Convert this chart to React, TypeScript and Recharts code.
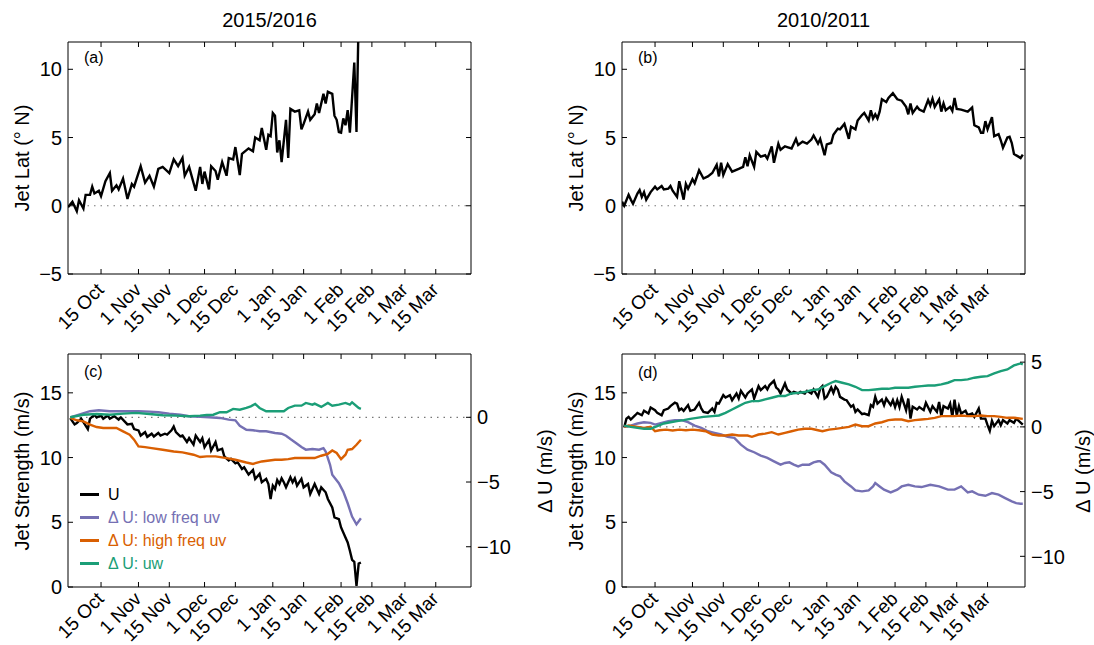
import { LineChart, Line, XAxis, YAxis, ReferenceLine, ReferenceArea, Legend } from "recharts"

// day index: 0 = 1 Oct
const monthLabels = ["15 Oct", "1 Nov", "15 Nov", "1 Dec", "15 Dec", "1 Jan", "15 Jan", "1 Feb", "15 Feb", "1 Mar", "15 Mar"]
const tickDays1516 = [14, 31, 45, 61, 75, 92, 106, 123, 137, 152, 166]
const tickDays1011 = [14, 31, 45, 61, 75, 92, 106, 123, 137, 151, 165]

// (a) jet latitude 2015/2016
const latDays1516 = [-1, 1, 3, 4, 6, 7, 9, 10, 11, 13,
    14, 16, 18, 19, 21, 22, 24, 26, 28, 29,
    32, 34, 36, 38, 40, 42, 45, 47, 49, 51,
    52, 54, 57, 59, 60, 61, 63, 64, 66, 67,
    69, 71, 72, 74, 75, 77, 78, 81, 83, 84,
    86, 87, 89, 90, 91, 92, 93, 94, 95, 96,
    98, 99, 100, 102, 104, 105, 106, 108, 109, 111,
    112, 113, 115, 116, 117, 119, 120, 121, 122, 123,
    124, 125, 126, 127, 129, 130, 131]
const latVals1516 = [-0.1, 0.3, -0.4, 0.4, -0.2, 0.8, 0.8, 1.4, 0.9, 1.1,
    0.7, 1.8, 2.4, 1.1, 1.5, 1.2, 2.0, 0.5, 1.6, 1.4,
    2.9, 1.7, 2.2, 1.4, 2.7, 2.85, 2.4, 3.4, 2.9, 3.5,
    2.2, 2.85, 1.1, 2.85, 1.6, 2.5, 1.2, 2.9, 2.55, 1.9,
    3.2, 2.2, 3.5, 3.4, 4.3, 2.25, 3.8, 4.2, 4.0, 5.0,
    4.8, 5.7, 4.1, 5.2, 5.1, 6.8, 6.6, 3.9, 4.8, 3.2,
    6.3, 3.5, 7.1, 6.9, 7.0, 5.6, 6.0, 6.9, 6.3, 6.7,
    7.5, 6.8, 8.2, 7.5, 8.35, 8.2, 6.6, 6.3, 5.4, 5.35,
    6.4, 5.9, 7.0, 5.35, 10.5, 5.4, 14]

// (b) jet latitude 2010/2011
const latDays1011 = [-1, 0, 2, 3, 4, 6, 7, 8, 9, 10,
    12, 14, 15, 17, 18, 20, 21, 22, 24, 25,
    27, 28, 29, 31, 32, 34, 36, 38, 40, 42,
    43, 44, 45, 47, 49, 52, 54, 55, 56, 57,
    59, 60, 62, 64, 65, 67, 68, 70, 71, 73,
    74, 76, 78, 79, 81, 83, 85, 86, 88, 89,
    91, 92, 94, 95, 97, 98, 100, 102, 103, 105,
    106, 108, 109, 111, 112, 113, 114, 115, 116, 117,
    119, 120, 122, 124, 126, 128, 129, 130, 131, 133,
    134, 136, 138, 139, 140, 141, 143, 144, 145, 146,
    148, 149, 150, 151, 153, 156, 158, 159, 161, 162,
    163, 164, 165, 167, 168, 170, 171, 172, 174, 175,
    176, 177, 179, 180, 181]
const latVals1011 = [0.3, 0.0, 0.8, 0.45, 0.15, 0.9, 1.15, 0.65, 1.0, 0.45,
    1.0, 1.4, 1.2, 1.45, 1.2, 1.25, 1.45, 1.1, 0.65, 1.8,
    0.45, 1.6, 1.25, 1.95, 1.65, 2.6, 2.0, 2.15, 2.4, 3.0,
    2.15, 3.15, 2.25, 3.05, 2.5, 2.7, 2.85, 3.55, 2.9, 3.7,
    2.85, 3.95, 3.6, 3.7, 3.45, 4.35, 3.15, 4.55, 4.1, 4.35,
    4.3, 4.2, 4.9, 4.45, 4.7, 4.55, 4.85, 5.15, 4.55, 4.9,
    3.7, 4.5, 4.6, 5.2, 5.65, 5.6, 6.0, 4.9, 5.8, 5.6,
    6.25, 6.65, 6.8, 6.25, 7.0, 6.4, 6.7, 6.4, 6.9, 7.8,
    7.6, 7.9, 8.25, 7.8, 7.7, 7.25, 6.7, 7.5, 6.8, 7.25,
    7.05, 6.9, 7.75, 7.35, 7.85, 7.25, 7.8, 6.9, 7.5, 7.0,
    7.25, 6.95, 7.9, 7.1, 7.05, 6.9, 7.2, 5.9, 5.75, 5.35,
    5.35, 6.2, 5.6, 6.5, 5.1, 5.25, 4.8, 4.25, 5.0, 5.05,
    4.6, 3.8, 3.6, 3.5, 3.75]

// (c) jet strength 2015/2016 (U on left axis, delta U on right axis)
const uDays1516 = [0, 2, 3, 5, 6, 8, 9, 11, 12, 14,
    15, 17, 18, 20, 22, 23, 25, 26, 28, 29,
    31, 32, 34, 35, 37, 38, 40, 41, 43, 44,
    46, 47, 48, 50, 51, 53, 54, 56, 57, 59,
    60, 61, 63, 64, 66, 67, 69, 70, 72, 73,
    75, 76, 78, 79, 81, 83, 84, 86, 87, 89,
    90, 91, 92, 93, 94, 95, 96, 97, 98, 100,
    101, 102, 103, 105, 106, 108, 109, 111, 112, 113,
    114, 116, 117, 119, 120, 122, 123, 125, 126, 127,
    128, 129, 130, 131, 132]
const uVals1516 = [13.05, 12.56, 12.66, 13.0, 12.74, 12.2, 13.0, 13.3, 13.1, 13.25,
    13.0, 13.25, 13.0, 13.2, 12.93, 13.1, 12.74, 12.56, 12.6, 12.2,
    12.1, 11.7, 11.96, 11.6, 11.84, 11.63, 11.9, 11.7, 11.84, 11.78,
    12.1, 12.4, 11.96, 11.63, 11.7, 11.2, 11.5, 11.0, 11.7, 11.2,
    11.5, 10.8, 11.35, 10.55, 11.2, 10.55, 10.68, 10.08, 9.78, 9.9,
    9.56, 9.64, 9.12, 9.25, 8.69, 9.05, 8.35, 8.74, 8.09, 8.35,
    7.96, 6.8, 7.83, 7.57, 8.27, 7.96, 8.4, 8.09, 7.7, 8.48,
    8.09, 8.4, 7.83, 8.35, 7.7, 7.96, 7.19, 7.96, 7.57, 7.19,
    7.7, 7.32, 6.8, 6.15, 5.38, 5.25, 4.6, 3.83, 3.44, 2.8,
    2.1, 1.95, 0.08, 1.81, 1.89]

const lowDays1516 = [0, 4, 9, 13, 18, 22, 27, 31, 36, 40,
    45, 50, 54, 59, 63, 68, 72, 75, 77, 80,
    83, 86, 89, 93, 96, 98, 100, 103, 105, 107,
    110, 113, 115, 116, 118, 119, 122, 124, 126, 128,
    130, 132]
const lowVals1516 = [0, 0.2, 0.47, 0.54, 0.47, 0.47, 0.47, 0.47, 0.44, 0.39,
    0.28, 0.2, 0.08, 0.03, 0, -0.05, -0.18, -0.23, -0.65, -0.96,
    -1.0, -1.08, -1.08, -1.21, -1.27, -1.42, -1.68, -2.04, -2.3, -2.5,
    -2.45, -2.5, -2.38, -2.64, -3.67, -4.44, -5.09, -5.74, -6.64, -7.67,
    -8.27, -7.8]

const highDays1516 = [0, 3, 6, 9, 12, 15, 18, 21, 24, 27,
    29, 31, 34, 37, 42, 47, 51, 56, 59, 62,
    66, 71, 75, 80, 83, 87, 93, 96, 99, 102,
    105, 108, 111, 114, 117, 119, 121, 123, 125, 126,
    128, 130, 132]
const highVals1516 = [-0.05, -0.23, -0.31, -0.57, -0.75, -0.83, -0.83, -0.83, -1.09, -1.34,
    -1.73, -2.25, -2.3, -2.38, -2.51, -2.64, -2.71, -2.89, -3.07, -3.02,
    -3.02, -3.15, -3.28, -3.49, -3.6, -3.41, -3.28, -3.28, -3.23, -3.15,
    -3.15, -3.15, -3.15, -2.97, -2.82, -2.56, -2.76, -3.23, -2.89, -2.51,
    -2.45, -2.12, -1.73]

const uwDays1516 = [0, 6, 12, 18, 24, 30, 36, 42, 48, 54,
    59, 62, 65, 68, 71, 74, 77, 80, 82, 84,
    86, 89, 93, 97, 99, 102, 105, 107, 110, 111,
    114, 117, 119, 122, 125, 127, 128, 131, 132]
const uwVals1516 = [0, 0.2, 0.26, 0.2, 0.28, 0.34, 0.26, 0.16, 0.13, 0.08,
    0.13, 0.18, 0.2, 0.39, 0.39, 0.65, 0.59, 0.72, 0.85, 1.03,
    0.72, 0.47, 0.47, 0.47, 0.72, 0.9, 0.9, 1.11, 0.98, 1.06,
    0.8, 1.11, 0.9, 0.98, 1.11, 0.98, 1.16, 0.72, 0.65]

// (d) jet strength 2010/2011
const uDays1011 = [0, 1, 2, 3, 5, 6, 8, 9, 11, 12,
    14, 15, 17, 18, 20, 21, 23, 24, 25, 26,
    27, 29, 30, 32, 34, 35, 36, 38, 40, 41,
    42, 43, 45, 46, 48, 49, 51, 52, 53, 55,
    56, 58, 59, 61, 62, 64, 65, 66, 68, 69,
    70, 71, 73, 74, 76, 77, 79, 80, 82, 83,
    85, 86, 88, 89, 90, 91, 92, 94, 95, 96,
    97, 98, 100, 101, 103, 104, 105, 106, 108, 109,
    111, 112, 113, 114, 115, 117, 118, 119, 121, 122,
    123, 124, 125, 126, 128, 129, 130, 131, 133, 134,
    136, 137, 139, 140, 142, 143, 144, 145, 147, 148,
    149, 150, 151, 152, 153, 155, 156, 158, 159, 161,
    162, 164, 165, 166, 167, 168, 170, 171, 172, 174,
    175, 177, 178, 180, 181]
const uVals1011 = [12.32, 13.01, 13.14, 12.94, 13.27, 13.45, 13.27, 13.61, 13.4, 13.87,
    13.66, 13.45, 13.27, 13.66, 13.79, 13.97, 14.25, 14.17, 13.66, 13.79,
    13.61, 14.05, 13.61, 13.71, 14.23, 13.79, 13.53, 13.45, 13.79, 13.53,
    14.23, 14.17, 14.82, 14.64, 14.82, 14.43, 14.95, 14.56, 15.16, 14.64,
    14.95, 15.26, 14.56, 15.52, 15.21, 15.52, 15.26, 15.6, 15.93, 15.41,
    15.26, 14.95, 15.72, 15.26, 14.95, 15.08, 14.95, 15.08, 14.95, 15.16,
    14.95, 15.26, 14.69, 15.34, 15.52, 14.56, 14.69, 15.41, 15.0, 15.47,
    15.26, 14.69, 14.48, 14.43, 13.92, 14.05, 13.53, 13.71, 13.35, 13.4,
    13.27, 14.05, 13.92, 14.69, 14.17, 14.48, 14.05, 14.56, 14.05, 14.43,
    13.9, 14.43, 13.9, 14.69, 13.66, 14.56, 13.01, 13.92, 13.71, 13.9,
    13.66, 14.23, 13.53, 13.97, 13.53, 14.3, 13.19, 13.97, 13.79, 14.17,
    13.14, 14.48, 13.27, 13.97, 13.4, 13.61, 13.27, 13.4, 13.14, 13.79,
    13.01, 13.01, 12.5, 12.06, 12.84, 12.43, 12.89, 12.5, 12.89, 12.63,
    12.89, 12.68, 13.01, 12.7, 12.55]

const lowDays1011 = [0, 3, 6, 9, 12, 14, 17, 20, 23, 26,
    29, 32, 35, 38, 41, 44, 47, 50, 53, 56,
    59, 62, 65, 68, 71, 73, 75, 77, 79, 81,
    84, 86, 88, 89, 91, 94, 96, 98, 100, 103,
    105, 108, 111, 113, 114, 116, 118, 121, 124, 126,
    129, 132, 135, 139, 143, 147, 150, 153, 156, 158,
    161, 164, 167, 170, 173, 176, 178, 180, 181]
const lowVals1011 = [0, 0.1, 0.26, 0.36, 0.31, 0.18, 0.31, 0.44, 0.52, 0.52,
    0.36, 0.1, -0.08, -0.34, -0.46, -0.59, -0.77, -0.85, -1.37, -1.76,
    -1.96, -2.22, -2.4, -2.66, -2.92, -2.79, -2.74, -2.92, -3.05, -2.92,
    -2.92, -2.74, -2.66, -2.66, -2.92, -3.51, -3.69, -3.82, -4.21, -4.6,
    -4.91, -4.98, -4.91, -4.6, -4.34, -4.6, -4.85, -5.06, -4.85, -4.6,
    -4.47, -4.6, -4.65, -4.47, -4.6, -4.85, -4.85, -4.6, -5.06, -4.98,
    -5.24, -5.32, -5.11, -5.24, -5.5, -5.76, -5.89, -5.94, -5.94]

const highDays1011 = [0, 2, 6, 9, 12, 14, 16, 19, 22, 25,
    28, 31, 34, 37, 40, 43, 46, 49, 52, 56,
    58, 61, 64, 67, 70, 73, 76, 79, 82, 85,
    88, 90, 93, 96, 99, 102, 105, 108, 111, 114,
    117, 120, 123, 126, 129, 132, 135, 138, 141, 144,
    147, 150, 153, 156, 159, 162, 165, 168, 171, 174,
    177, 181]
const highVals1011 = [0, 0.1, 0, -0.08, 0, -0.34, -0.26, -0.21, -0.28, -0.21,
    -0.26, -0.21, -0.26, -0.34, -0.59, -0.67, -0.67, -0.59, -0.67, -0.67,
    -0.77, -0.59, -0.52, -0.41, -0.59, -0.46, -0.34, -0.21, -0.15, -0.15,
    -0.26, -0.34, -0.21, -0.15, -0.08, 0, 0.18, 0.05, 0.05, 0.26,
    0.36, 0.52, 0.57, 0.57, 0.44, 0.52, 0.57, 0.62, 0.7, 0.83,
    0.83, 0.83, 0.88, 0.83, 0.83, 0.88, 0.83, 0.83, 0.77, 0.7,
    0.7, 0.62]

const uwDays1011 = [0, 3, 6, 9, 12, 15, 18, 21, 24, 27,
    30, 33, 36, 40, 43, 46, 49, 52, 55, 58,
    61, 64, 67, 70, 73, 76, 79, 82, 85, 88,
    91, 94, 96, 99, 102, 105, 108, 111, 114, 117,
    120, 123, 126, 129, 132, 135, 138, 141, 144, 147,
    150, 153, 156, 159, 162, 165, 168, 171, 174, 177,
    180, 181]
const uwVals1011 = [0.1, 0, -0.08, -0.15, -0.15, 0.05, 0.26, 0.36, 0.44, 0.52,
    0.62, 0.7, 0.77, 0.83, 0.88, 1.08, 1.34, 1.6, 1.86, 1.99,
    1.99, 2.12, 2.25, 2.38, 2.38, 2.58, 2.63, 2.69, 2.84, 2.89,
    3.15, 3.41, 3.54, 3.41, 3.28, 3.1, 2.84, 2.84, 2.89, 2.94,
    2.94, 3.02, 3.02, 3.02, 3.1, 3.15, 3.2, 3.2, 3.28, 3.41,
    3.61, 3.61, 3.67, 3.8, 3.87, 3.92, 4.13, 4.31, 4.44, 4.75,
    4.9, 4.83]

const latTicks = [-5, 0, 5, 10]
const strengthTicks = [0, 5, 10, 15]
const seriesNames = ["U", "\u0394 U: low freq uv", "\u0394 U: high freq uv", "\u0394 U: uw"]

const C_U = "#000000"
const C_LOW = "#7570b3"
const C_HIGH = "#d95f02"
const C_UW = "#1b9e77"

const FONT = '"Liberation Sans", Arial, Helvetica, sans-serif'
const PLOT_W = 403

const pts = (days: number[], vals: number[]) => days.map((d, i) => ({ day: d, v: vals[i] }))
const fmt = (v: number) => (v < 0 ? "\u2212" + Math.abs(v) : String(v))

function xTick(days: number[], plotH: number, drop: number) {
    return (props: any) => {
        const { x, y, payload } = props
        const label = monthLabels[days.indexOf(payload.value)]
        const tx = x + 4
        const ty = y + drop
        return (
            <g>
                <line x1={x} x2={x} y1={y} y2={y - 5} stroke="#000" />
                <line x1={x} x2={x} y1={y - plotH} y2={y - plotH + 5} stroke="#000" />
                <text x={tx} y={ty} textAnchor="end" fontSize={19} fill="#000"
                    transform={`rotate(-45 ${tx} ${ty})`}>{label}</text>
            </g>
        )
    }
}

function leftTick(mirror: boolean) {
    return (props: any) => {
        const { x, y, payload } = props
        return (
            <g>
                <line x1={x} x2={x + 5} y1={y} y2={y} stroke="#000" />
                {mirror && <line x1={x + PLOT_W} x2={x + PLOT_W - 5} y1={y} y2={y} stroke="#000" />}
                <text x={x - 6} y={y} dy="0.36em" textAnchor="end" fontSize={20} fill="#000">{fmt(payload.value)}</text>
            </g>
        )
    }
}

const rightTick = (props: any) => {
    const { x, y, payload } = props
    return (
        <g>
            <line x1={x} x2={x - 5} y1={y} y2={y} stroke="#000" />
            <text x={x + 6} y={y} dy="0.36em" textAnchor="start" fontSize={20} fill="#000">{fmt(payload.value)}</text>
        </g>
    )
}

function Txt({ x, y, size, text, center }: any) {
    return (
        <div style={{
            position: "absolute", left: center ? x - 100 : x, top: y,
            width: center ? 200 : "auto", textAlign: center ? "center" : "left",
            fontSize: size, lineHeight: size + "px", whiteSpace: "nowrap"
        }}>{text}</div>
    )
}

function VTxt({ cx, cy, text }: any) {
    return (
        <div style={{
            position: "absolute", left: cx - 100, top: cy - 12, width: 200, height: 24,
            lineHeight: "24px", textAlign: "center", fontSize: 20, whiteSpace: "nowrap",
            transform: "rotate(-90deg)"
        }}>{text}</div>
    )
}

const legendContent = (props: any) => {
    const items = [...(props.payload || [])].sort(
        (a: any, b: any) => seriesNames.indexOf(a.value) - seriesNames.indexOf(b.value))
    return (
        <div>
            {items.map((e: any) => (
                <div key={e.value} style={{ display: "flex", alignItems: "center", height: 23 }}>
                    <span style={{ display: "inline-block", width: 19, height: 3.5, background: e.color, marginRight: 9 }} />
                    <span style={{ color: e.color, fontSize: 16, fontFamily: FONT }}>{e.value}</span>
                </div>
            ))}
        </div>
    )
}

function LatPanel({ left, marginLeft, marginRight, days, vals, ticks }: any) {
    return (
        <div style={{ position: "absolute", left, top: 0 }}>
            <LineChart width={547} height={340} margin={{ top: 42, right: marginRight, bottom: 0, left: marginLeft }}>
                <XAxis type="number" dataKey="day" domain={[-1, 182]} ticks={ticks} interval={0}
                    tick={xTick(ticks, 232, 17)} tickLine={false} axisLine={false} tickSize={0} tickMargin={0}
                    height={66} allowDataOverflow />
                <YAxis yAxisId="left" type="number" domain={[-5, 12]} ticks={latTicks} interval={0}
                    tick={leftTick(true)} tickLine={false} axisLine={false} tickSize={0} tickMargin={0}
                    width={60} allowDataOverflow />
                <ReferenceArea yAxisId="left" x1={-1} x2={182} y1={-5} y2={12}
                    fill="none" stroke="#000" strokeWidth={1} />
                <ReferenceLine yAxisId="left" y={0} stroke="#777" strokeDasharray="1.5 5" />
                <Line yAxisId="left" data={pts(days, vals)} dataKey="v" type="linear"
                    stroke={C_U} strokeWidth={2.4} dot={false} isAnimationActive={false} />
            </LineChart>
        </div>
    )
}

function StrengthPanel({ left, marginLeft, marginRight, ticks, rightDomain, rightTicks, series, legend }: any) {
    return (
        <div style={{ position: "absolute", left, top: 340 }}>
            <LineChart width={547} height={305} margin={{ top: 14, right: marginRight, bottom: 0, left: marginLeft }}>
                <XAxis type="number" dataKey="day" domain={[-1, 182]} ticks={ticks} interval={0}
                    tick={xTick(ticks, 233, 13)} tickLine={false} axisLine={false} tickSize={0} tickMargin={0}
                    height={58} allowDataOverflow />
                <YAxis yAxisId="left" type="number" domain={[0, 18]} ticks={strengthTicks} interval={0}
                    tick={leftTick(false)} tickLine={false} axisLine={false} tickSize={0} tickMargin={0}
                    width={60} allowDataOverflow />
                <YAxis yAxisId="right" orientation="right" type="number" domain={rightDomain} ticks={rightTicks}
                    interval={0} tick={rightTick} tickLine={false} axisLine={false} tickSize={0} tickMargin={0}
                    width={60} allowDataOverflow />
                <ReferenceArea yAxisId="left" x1={-1} x2={182} y1={0} y2={18}
                    fill="none" stroke="#000" strokeWidth={1} />
                <ReferenceLine yAxisId="right" y={0} stroke="#555" strokeDasharray="1.5 5" />
                {series.map((s: any) => (
                    <Line key={s.name} name={s.name} yAxisId={s.axis} data={pts(s.days, s.vals)} dataKey="v"
                        type="linear" stroke={s.color} strokeWidth={2.4} dot={false} isAnimationActive={false} />
                ))}
                {legend && (
                    <Legend layout="vertical" align="center" verticalAlign="middle" content={legendContent}
                        wrapperStyle={{ left: 80, top: 143, right: "auto", bottom: "auto", width: 260, height: "auto" }} />
                )}
            </LineChart>
        </div>
    )
}

const series1516 = [
    { name: seriesNames[0], axis: "left", days: uDays1516, vals: uVals1516, color: C_U },
    { name: seriesNames[1], axis: "right", days: lowDays1516, vals: lowVals1516, color: C_LOW },
    { name: seriesNames[2], axis: "right", days: highDays1516, vals: highVals1516, color: C_HIGH },
    { name: seriesNames[3], axis: "right", days: uwDays1516, vals: uwVals1516, color: C_UW },
]
const series1011 = [
    { name: seriesNames[0], axis: "left", days: uDays1011, vals: uVals1011, color: C_U },
    { name: seriesNames[1], axis: "right", days: lowDays1011, vals: lowVals1011, color: C_LOW },
    { name: seriesNames[2], axis: "right", days: highDays1011, vals: highVals1011, color: C_HIGH },
    { name: seriesNames[3], axis: "right", days: uwDays1011, vals: uwVals1011, color: C_UW },
]

export default function App() {
    return (
        <div style={{
            position: "absolute", left: 0, top: 0, width: 1094, height: 645,
            background: "#fff", fontFamily: FONT, color: "#000", overflow: "hidden"
        }}>
            <LatPanel left={0} marginLeft={8} marginRight={76} days={latDays1516} vals={latVals1516} ticks={tickDays1516} />
            <LatPanel left={547} marginLeft={15} marginRight={69} days={latDays1011} vals={latVals1011} ticks={tickDays1011} />
            <StrengthPanel left={0} marginLeft={8} marginRight={16} ticks={tickDays1516}
                rightDomain={[-13.11, 4.89]} rightTicks={[-10, -5, 0]} series={series1516} legend />
            <StrengthPanel left={547} marginLeft={15} marginRight={9} ticks={tickDays1011}
                rightDomain={[-12.37, 5.63]} rightTicks={[-10, -5, 0, 5]} series={series1011} legend={false} />

            <Txt x={269.5} y={10} size={20} text="2015/2016" center />
            <Txt x={823.5} y={10} size={20} text="2010/2011" center />
            <Txt x={84} y={50} size={16} text="(a)" />
            <Txt x={638} y={50} size={16} text="(b)" />
            <Txt x={84} y={364} size={16} text="(c)" />
            <Txt x={638} y={365} size={16} text="(d)" />
            <VTxt cx={22} cy={158} text="Jet Lat (° N)" />
            <VTxt cx={576} cy={158} text="Jet Lat (° N)" />
            <VTxt cx={22} cy={471} text="Jet Strength (m/s)" />
            <VTxt cx={576} cy={471} text="Jet Strength (m/s)" />
            <VTxt cx={545} cy={471} text={"\u0394 U (m/s)"} />
            <VTxt cx={1083} cy={471} text={"\u0394 U (m/s)"} />
        </div>
    )
}
